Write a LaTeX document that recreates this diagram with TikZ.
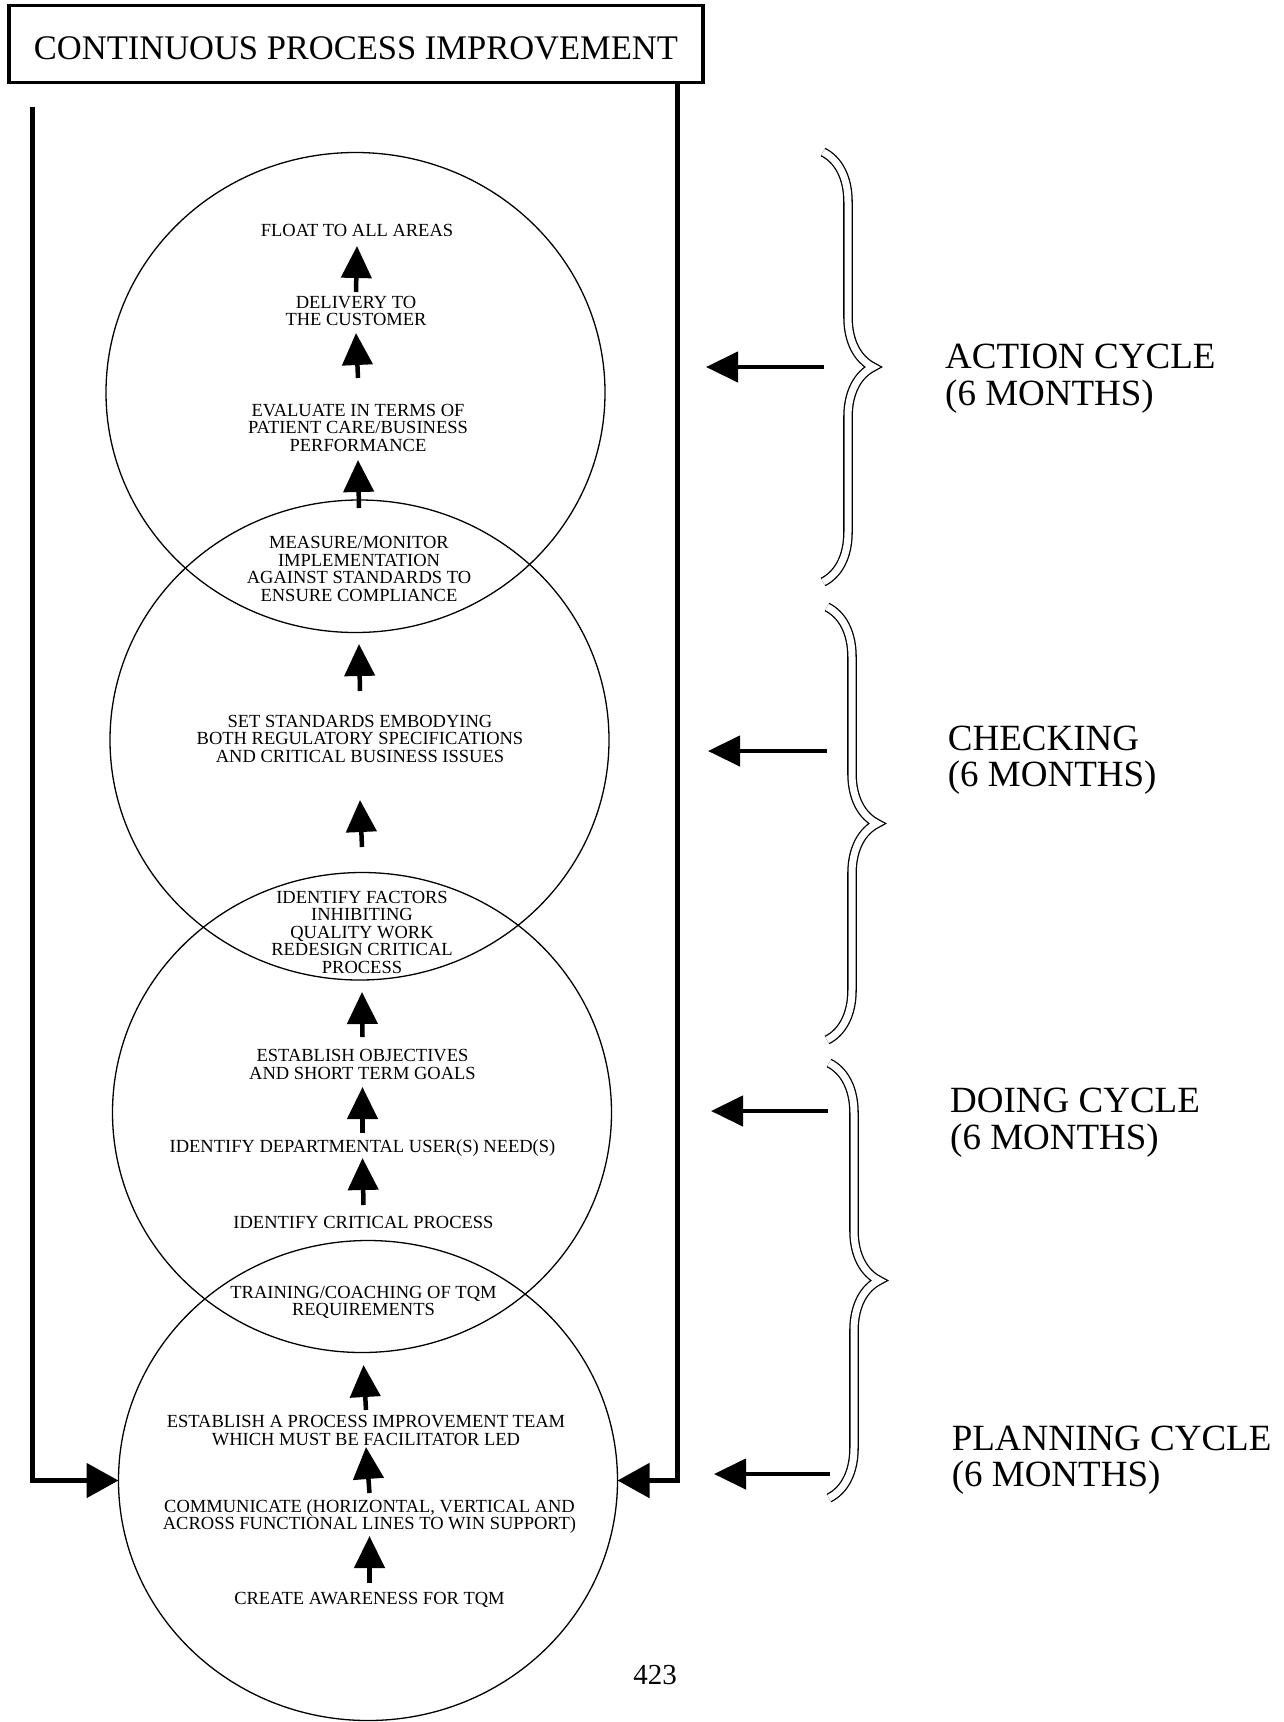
\documentclass[tikz,border=0pt]{standalone}
\usepackage{fontspec}
\setmainfont{Liberation Serif}
\usetikzlibrary{arrows.meta,positioning,shapes.geometric,decorations.pathreplacing,calc}

\tikzset{
  phase/.style={draw, ellipse, line width=1.3pt, minimum width=499pt,
    minimum height=480pt, inner sep=0pt, outer sep=0pt},
  stage/.style={font=\fontsize{18.5}{17.5}\selectfont, align=center, inner sep=0pt},
  period/.style={font=\fontsize{37}{36.5}\selectfont, align=left, anchor=west, inner sep=0pt},
  uparr/.style={line width=4.5pt, -{Triangle[length=32pt,width=30pt]}},
  sidearr/.style={line width=4.5pt, -{Triangle[length=32pt,width=30pt]}},
  link/.style={line width=5pt, -{Triangle[length=32pt,width=34pt]}},
  span/.style={decorate, decoration={brace, amplitude=50pt}, line width=1.3pt,
    double=white, double distance=7pt}
}

\begin{document}
\begin{tikzpicture}[x=1pt, y=-1pt]
  \useasboundingbox (0,0) rectangle (1284,1722);

  % title
  \node[draw, line width=3.5pt, minimum width=694pt, minimum height=77pt, inner sep=0pt,
        text height=31pt, text depth=0pt, font=\fontsize{34.5}{40}\selectfont]
        (title) at (356,43.75) {CONTINUOUS PROCESS IMPROVEMENT};

  % the four cycles
  \node[phase] (c1) at (355.5,392.5) {};
  \node[phase] (c2) at (359.5,740) {};
  \node[phase] (c3) at (362,1112.5) {};
  \node[phase] (c4) at (368,1480.5) {};

  % steps, bottom to top
  \node[stage] (float) at (357,230) {FLOAT TO ALL AREAS};
  \node[stage] (deliv) at (356,311) {DELIVERY TO\\THE CUSTOMER};
  \node[stage] (eval) at (358,427.5) {EVALUATE IN TERMS OF\\PATIENT CARE/BUSINESS\\PERFORMANCE};
  \node[stage] (measure) at (359,569) {MEASURE/MONITOR\\IMPLEMENTATION\\AGAINST STANDARDS TO\\ENSURE COMPLIANCE};
  \node[stage] (setstd) at (360,738.5) {SET STANDARDS EMBODYING\\BOTH REGULATORY SPECIFICATIONS\\AND CRITICAL BUSINESS ISSUES};
  \node[stage] (factors) at (362,932) {IDENTIFY FACTORS\\INHIBITING\\QUALITY WORK\\REDESIGN CRITICAL\\PROCESS};
  \node[stage] (goals) at (362.5,1064.5) {ESTABLISH OBJECTIVES\\AND SHORT TERM GOALS};
  \node[stage] (needs) at (362.5,1148) {IDENTIFY DEPARTMENTAL USER(S) NEED(S)};
  \node[stage] (critical) at (363.5,1222) {IDENTIFY CRITICAL PROCESS};
  \node[stage] (training) at (363.5,1302.5) {TRAINING/COACHING OF TQM\\REQUIREMENTS};
  \node[stage] (team) at (366,1430.5) {ESTABLISH A PROCESS IMPROVEMENT TEAM\\WHICH MUST BE FACILITATOR LED};
  \node[stage] (comm) at (369.5,1516.5) {COMMUNICATE (HORIZONTAL, VERTICAL AND\\ACROSS FUNCTIONAL LINES TO WIN SUPPORT)};
  \node[stage] (aware) at (369.5,1600) {CREATE AWARENESS FOR TQM};

  \draw[uparr] ($(deliv)+(0,-19)$) -- ($(float)+(0,16)$);
  \draw[uparr] ($(eval)+(0,-49.5)$) -- ($(deliv)+(0,22)$);
  \draw[uparr] ($(measure)+(0,-61)$) -- ($(eval)+(0,32.5)$);
  \draw[uparr] ($(setstd)+(0,-47.5)$) -- ($(measure)+(0,75)$);
  \draw[uparr] ($(factors)+(0,-85)$) -- ($(setstd)+(0,61.5)$);
  \draw[uparr] ($(goals)+(0,-27.5)$) -- ($(factors)+(0,60)$);
  \draw[uparr] ($(needs)+(0,-15)$) -- ($(goals)+(0,22.5)$);
  \draw[uparr] ($(critical)+(0,-17)$) -- ($(needs)+(0,10)$);
  \draw[uparr] ($(team)+(0,-20.5)$) -- ($(training)+(0,62.5)$);
  \draw[uparr] ($(comm)+(0,-23.5)$) -- ($(team)+(0,16.5)$);
  \draw[uparr] ($(aware)+(0,-17)$) -- ($(comm)+(0,19.5)$);

  % feedback loop
  \coordinate (ltop) at (32,107);
  \draw[link] (ltop) |- (c4.west);
  \draw[link] ([xshift=-27pt]title.south east) |- (c4.east);

  % periods
  \draw[span] (823,152) -- (823,582);
  \draw[span] (827,607) -- (827,1040);
  \draw[span] (829,1063) -- (829,1498);

  \node[period] (action) at (945,378.5) {ACTION CYCLE\\(6 MONTHS)};
  \node[period] (check) at (947.7,760) {CHECKING\\(6 MONTHS)};
  \node[period] (doing) at (950,1122.5) {DOING CYCLE\\(6 MONTHS)};
  \node[period] (plan) at (951.6,1460) {PLANNING CYCLE\\(6 MONTHS)};

  \coordinate (acttail) at (824,367);   \coordinate (acttip) at (706,367);
  \coordinate (chktail) at (827,751);   \coordinate (chktip) at (708,751);
  \coordinate (dotail) at (828,1111);   \coordinate (dotip) at (711,1111);
  \coordinate (plantail) at (830,1474); \coordinate (plantip) at (714,1474);
  \draw[sidearr] (acttail) -- (acttip);
  \draw[sidearr] (chktail) -- (chktip);
  \draw[sidearr] (dotail) -- (dotip);
  \draw[sidearr] (plantail) -- (plantip);

  \node[font=\fontsize{29}{30}\selectfont, inner sep=0pt] (page) at (655,1675) {423};
\end{tikzpicture}
\end{document}
